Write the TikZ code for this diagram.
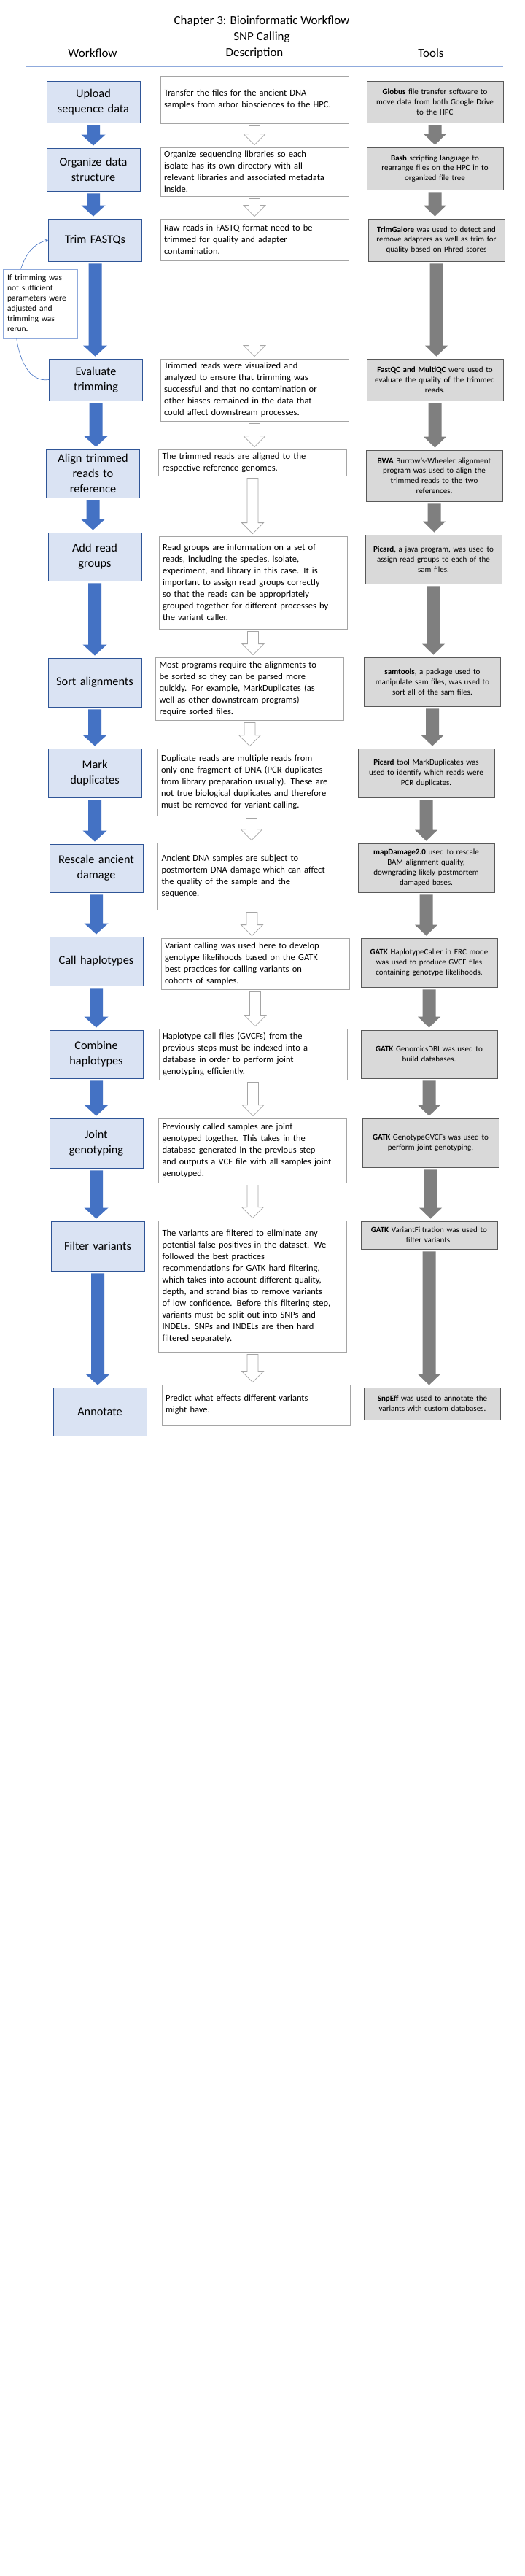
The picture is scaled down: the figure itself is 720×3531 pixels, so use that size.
\documentclass[tikz,border=0pt]{standalone}
\usepackage{fontspec}
\setmainfont{Carlito}
\usetikzlibrary{calc,arrows.meta}

\definecolor{wffill}{HTML}{DAE3F3}
\definecolor{wfborder}{HTML}{2F5597}
\definecolor{wfarrow}{HTML}{4472C4}
\definecolor{toolfill}{HTML}{D9D9D9}
\definecolor{toolborder}{HTML}{595959}
\definecolor{toolarrow}{HTML}{7F7F7F}
\definecolor{descborder}{HTML}{A5A5A5}
\definecolor{rulecolor}{HTML}{8FAADC}

% block arrow from one box to the next: style, half shaft, half head, from, to
\newcommand{\blockarrow}[5]{%
  \path[#1] let \p1=(#4.south), \p2=(#5.north) in
    (\x1-#2,\y1-3pt) -- (\x1+#2,\y1-3pt) -- (\x1+#2,\y2+18pt) -- (\x1+#3,\y2+18pt)
    -- (\x1,\y2+3pt) -- (\x1-#3,\y2+18pt) -- (\x1-#2,\y2+18pt) -- cycle;}

\begin{document}
\begin{tikzpicture}[x=1pt,y=1pt,
    head/.style={font=\fontsize{17}{20}\selectfont},
    wfbox/.style={draw=wfborder, fill=wffill, line width=0.9pt, minimum width=128pt, minimum height=#1,
      text width=124pt, inner sep=0pt, align=center, font=\fontsize{16.3}{21}\selectfont},
    descbox/.style={draw=descborder, fill=white, line width=0.8pt, minimum width=258pt, minimum height=#1,
      text width=248pt, inner sep=0pt, align=left, font=\fontsize{12.5}{16}\selectfont},
    toolbox/.style={draw=toolborder, fill=toolfill, line width=0.8pt, minimum width=187pt, minimum height=#1,
      text width=181pt, inner sep=0pt, align=center, font=\fontsize{11}{13.8}\selectfont},
    notebox/.style={draw=rulecolor, fill=white, line width=0.8pt, minimum width=102pt, minimum height=94pt,
      text width=90pt, inner sep=0pt, align=left, font=\fontsize{11.5}{14}\selectfont},
    wfarrowfill/.style={fill=wfarrow},
    toolarrowfill/.style={fill=toolarrow},
    descarrowfill/.style={fill=white, draw=descborder, line width=0.8pt},
    feedback/.style={draw=wfarrow, line width=0.6pt}]

    \useasboundingbox[fill=white] (0,0) rectangle (720,-3531);

    % headings
    \node[head] (title) at (359,-29) {Chapter 3: Bioinformatic Workflow};
    \node[head] (subtitle) at (359,-51) {SNP Calling};
    \node[head] (hwf) at (127,-73) {Workflow};
    \node[head] (hdesc) at (349,-73) {Description};
    \node[head] (htool) at (591,-73) {Tools};
    \draw[rulecolor, line width=1.2pt] (35,-91) -- (690,-91);

    % workflow column
    \node[wfbox=57pt] (w1) at (128,-139.5) {Upload\\ sequence data};
    \node[wfbox=59pt] (w2) at (128,-232.5) {Organize data\\ structure};
    \node[wfbox=58pt] (w3) at (130.5,-329) {Trim FASTQs};
    \node[wfbox=57pt] (w4) at (131.5,-520.5) {Evaluate\\ trimming};
    \node[wfbox=66pt] (w5) at (127.5,-649) {Align trimmed\\ reads to\\ reference};
    \node[wfbox=66pt] (w6) at (130,-763) {Add read\\ groups};
    \node[wfbox=67pt] (w7) at (130,-935.5) {Sort alignments};
    \node[wfbox=67pt] (w8) at (130,-1059.5) {Mark\\ duplicates};
    \node[wfbox=66pt] (w9) at (132,-1190) {Rescale ancient\\ damage};
    \node[wfbox=67pt] (w10) at (132,-1317.5) {Call haplotypes};
    \node[wfbox=66pt] (w11) at (132,-1445) {Combine\\ haplotypes};
    \node[wfbox=68pt] (w12) at (132,-1567) {Joint\\ genotyping};
    \node[wfbox=68pt] (w13) at (134,-1708) {Filter variants};
    \node[wfbox=66pt] (w14) at (137,-1935) {Annotate};

    % description column
    \node[descbox=65pt] (d1) at (349,-136.5) {Transfer the files for the ancient DNA\\ samples from arbor biosciences to the HPC.};
    \node[descbox=67pt] (d2) at (349,-235.5) {Organize sequencing libraries so each\\ isolate has its own directory with all\\ relevant libraries and associated metadata\\ inside.};
    \node[descbox=57pt] (d3) at (349,-328.5) {Raw reads in FASTQ format need to be\\ trimmed for quality and adapter\\ contamination.};
    \node[descbox=85pt] (d4) at (349,-534.5) {Trimmed reads were visualized and\\ analyzed to ensure that trimming was\\ successful and that no contamination or\\ other biases remained in the data that\\ could affect downstream processes.};
    \node[descbox=36pt] (d5) at (346.5,-634) {The trimmed reads are aligned to the\\ respective reference genomes.};
    \node[descbox=127pt] (d6) at (347,-798.5) {Read groups are information on a set of\\ reads, including the species, isolate,\\ experiment, and library in this case. It is\\ important to assign read groups correctly\\ so that the reads can be appropriately\\ grouped together for different processes by\\ the variant caller.};
    \node[descbox=86pt] (d7) at (342.5,-944) {Most programs require the alignments to\\ be sorted so they can be parsed more\\ quickly. For example, MarkDuplicates (as\\ well as other downstream programs)\\ require sorted files.};
    \node[descbox=92pt] (d8) at (345,-1072) {Duplicate reads are multiple reads from\\ only one fragment of DNA (PCR duplicates\\ from library preparation usually). These are\\ not true biological duplicates and therefore\\ must be removed for variant calling.};
    \node[descbox=92pt] (d9) at (345.5,-1201) {Ancient DNA samples are subject to\\ postmortem DNA damage which can affect\\ the quality of the sample and the\\ sequence.};
    \node[descbox=70pt] (d10) at (350,-1321) {Variant calling was used here to develop\\ genotype likelihoods based on the GATK\\ best practices for calling variants on\\ cohorts of samples.};
    \node[descbox=70pt] (d11) at (347,-1445) {Haplotype call files (GVCFs) from the\\ previous steps must be indexed into a\\ database in order to perform joint\\ genotyping efficiently.};
    \node[descbox=88pt] (d12) at (346.5,-1577) {Previously called samples are joint\\ genotyped together. This takes in the\\ database generated in the previous step\\ and outputs a VCF file with all samples joint\\ genotyped.};
    \node[descbox=180pt] (d13) at (346.5,-1763) {The variants are filtered to eliminate any\\ potential false positives in the dataset. We\\ followed the best practices\\ recommendations for GATK hard filtering,\\ which takes into account different quality,\\ depth, and strand bias to remove variants\\ of low confidence. Before this filtering step,\\ variants must be split out into SNPs and\\ INDELs. SNPs and INDELs are then hard\\ filtered separately.};
    \node[descbox=55pt] (d14) at (351,-1925.5) {Predict what effects different variants\\ might have.};

    % tools column
    \node[toolbox=57pt] (t1) at (596.5,-139.5) {\textbf{Globus} file transfer software to\\ move data from both Google Drive\\ to the HPC};
    \node[toolbox=58pt] (t2) at (596.5,-231) {\textbf{Bash} scripting language to\\ rearrange files on the HPC in to\\ organized file tree};
    \node[toolbox=58pt] (t3) at (598.5,-329) {\textbf{TrimGalore} was used to detect and\\ remove adapters as well as trim for\\ quality based on Phred scores};
    \node[toolbox=57pt] (t4) at (596.5,-520.5) {\textbf{FastQC and MultiQC} were used to\\ evaluate the quality of the trimmed\\ reads.};
    \node[toolbox=70pt] (t5) at (595.5,-652) {\textbf{BWA} Burrow's-Wheeler alignment\\ program was used to align the\\ trimmed reads to the two\\ references.};
    \node[toolbox=67pt] (t6) at (594.5,-766.5) {\textbf{Picard}, a java program, was used to\\ assign read groups to each of the\\ sam files.};
    \node[toolbox=67pt] (t7) at (593,-934.5) {\textbf{samtools}, a package used to\\ manipulate sam files, was used to\\ sort all of the sam files.};
    \node[toolbox=67pt] (t8) at (584.5,-1059.5) {\textbf{Picard} tool MarkDuplicates was\\ used to identify which reads were\\ PCR duplicates.};
    \node[toolbox=67pt] (t9) at (584.5,-1189.5) {\textbf{mapDamage2.0} used to rescale\\ BAM alignment quality,\\ downgrading likely postmortem\\ damaged bases.};
    \node[toolbox=67pt] (t10) at (588.5,-1319.5) {\textbf{GATK} HaplotypeCaller in ERC mode\\ was used to produce GVCF files\\ containing genotype likelihoods.};
    \node[toolbox=66pt] (t11) at (588.5,-1445) {\textbf{GATK} GenomicsDBI was used to\\ build databases.};
    \node[toolbox=67pt] (t12) at (590.5,-1566.5) {\textbf{GATK} GenotypeGVCFs was used to\\ perform joint genotyping.};
    \node[toolbox=38pt] (t13) at (588.5,-1693) {\textbf{GATK} VariantFiltration was used to\\ filter variants.};
    \node[toolbox=44pt] (t14) at (593,-1924) {\textbf{SnpEff} was used to annotate the\\ variants with custom databases.};

    % arrows between steps
    \foreach \i [count=\j from 2] in {1,...,13} {
      \blockarrow{wfarrowfill}{9pt}{16.5pt}{w\i}{w\j}
      \blockarrow{descarrowfill}{7.5pt}{15pt}{d\i}{d\j}
      \blockarrow{toolarrowfill}{9pt}{15.5pt}{t\i}{t\j}
    }

    % rerun trimming loop
    \node[notebox] (note) at (55,-416) {If trimming was\\ not sufficient\\ parameters were\\ adjusted and\\ trimming was\\ rerun.};
    \coordinate (notebot) at ($(note.south west)+(19,0)$);
    \coordinate (notetop) at ($(note.north west)+(25,0)$);
    \draw[feedback] (w4.west) to[out=188,in=-82] (notebot);
    \draw[feedback,-{Stealth[length=4pt,width=4pt]}] (notetop) to[out=72,in=195] (w3.west);
\end{tikzpicture}
\end{document}
